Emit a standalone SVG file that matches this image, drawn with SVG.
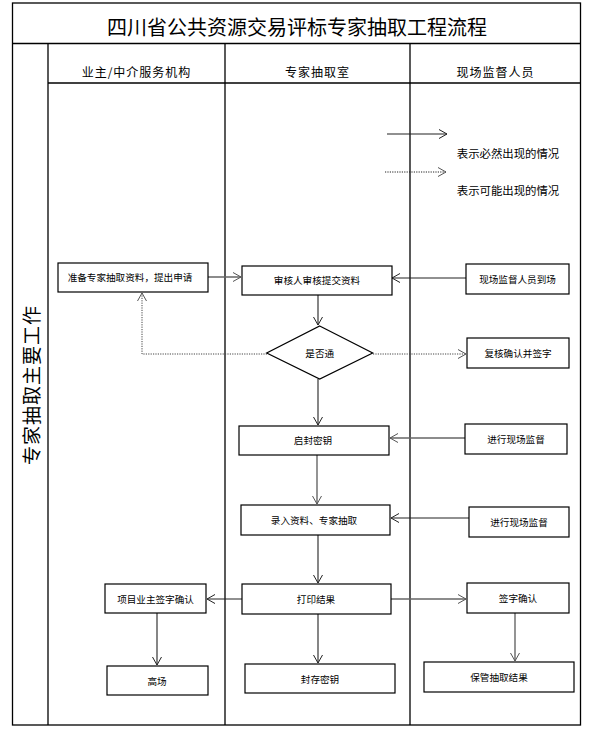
<svg xmlns="http://www.w3.org/2000/svg" width="596" height="730" viewBox="0 0 596 730">
<defs>
<marker id="ah" markerUnits="userSpaceOnUse" markerWidth="12" markerHeight="12" refX="9" refY="5" orient="auto">
<path d="M1,0.5 L9,5 L1,9.5" fill="none" stroke="#222" stroke-width="1"/>
</marker>
<marker id="ahg" markerUnits="userSpaceOnUse" markerWidth="12" markerHeight="12" refX="9" refY="5" orient="auto">
<path d="M1,0.5 L9,5 L1,9.5" fill="none" stroke="#555" stroke-width="1"/>
</marker>
<style>
.t{font-family:"Noto Sans CJK SC","Noto Sans",sans-serif;fill:#000;text-anchor:middle;dominant-baseline:central}
.b{font-size:9.6px}
.h{font-size:12px;letter-spacing:1px}
.box{fill:#fff;stroke:#000;stroke-width:1.2}
.fr{fill:none;stroke:#000;stroke-width:1.3}
.c{fill:none;stroke:#222;stroke-width:1.1;marker-end:url(#ah)}
.cg{fill:none;stroke:#666;stroke-width:1.4;marker-end:url(#ahg)}
.d{fill:none;stroke:#444;stroke-width:1;stroke-dasharray:1.2,1.2;marker-end:url(#ahg)}
</style>
</defs>
<rect width="596" height="730" fill="#fff"/>
<g id="frame">
<rect class="fr" x="12.5" y="3" width="568" height="722"/>
<line class="fr" x1="12.5" y1="43.5" x2="580.5" y2="43.5"/>
<line class="fr" x1="48" y1="43.5" x2="48" y2="725"/>
<line class="fr" x1="225" y1="43.5" x2="225" y2="725"/>
<line class="fr" x1="410" y1="43.5" x2="410" y2="725"/>
<line class="fr" x1="48" y1="83" x2="580.5" y2="83"/>
<text class="t" x="297" y="26" style="font-size:20px">四川省公共资源交易评标专家抽取工程流程</text>
<text class="t h" x="136.5" y="71">业主/中介服务机构</text>
<text class="t h" x="317.5" y="71">专家抽取室</text>
<text class="t h" x="495.5" y="71">现场监督人员</text>
<text class="t" x="30" y="385" style="font-size:19px;letter-spacing:1px" transform="rotate(-90 30 385)">专家抽取主要工作</text>
</g>
<g id="legend">
<line class="c" x1="387" y1="134" x2="447" y2="134"/>
<text class="t" x="508" y="153" style="font-size:11.4px">表示必然出现的情况</text>
<line class="d" x1="385" y1="172" x2="446" y2="172" style="stroke:#222"/>
<text class="t" x="508" y="190" style="font-size:11.4px">表示可能出现的情况</text>
</g>
<g id="connectors">
<line class="cg" x1="208" y1="277" x2="241" y2="277"/>
<line class="c" x1="466" y1="278" x2="392" y2="278"/>
<line class="c" x1="318" y1="295" x2="318" y2="325"/>
<polyline class="d" points="267,354 142,354 142,293"/>
<line class="d" x1="373" y1="354" x2="466" y2="354"/>
<line class="c" x1="318" y1="379" x2="318" y2="425"/>
<line class="cg" x1="465" y1="438" x2="390" y2="438"/>
<line class="cg" x1="317" y1="455" x2="317" y2="504"/>
<line class="c" x1="469" y1="518" x2="391" y2="518"/>
<line class="c" x1="318" y1="535" x2="318" y2="583"/>
<line class="c" x1="242" y1="599" x2="207" y2="599"/>
<line class="cg" x1="391" y1="599" x2="466" y2="599"/>
<line class="c" x1="157" y1="613" x2="157" y2="665"/>
<line class="c" x1="318" y1="614" x2="318" y2="663"/>
<line class="cg" x1="515" y1="613" x2="515" y2="661"/>
</g>
<g id="n1"><rect class="box" x="58" y="263" width="150" height="29"/><text class="t b" x="130" y="277">准备专家抽取资料，提出申请</text></g>
<g id="n2"><rect class="box" x="242" y="266" width="150" height="29"/><text class="t b" x="317" y="280">审核人审核提交资料</text></g>
<g id="n3"><rect class="box" x="466" y="264" width="103" height="30"/><text class="t b" x="517.5" y="279">现场监督人员到场</text></g>
<g id="n4"><polygon points="319.7,326 372.7,353 319.7,379 266.7,353" fill="#fff" stroke="#000" stroke-width="1.2"/><text class="t b" x="319.7" y="353">是否通</text></g>
<g id="n5"><rect class="box" x="467" y="338" width="102" height="30"/><text class="t b" x="518" y="353">复核确认并签字</text></g>
<g id="n6"><rect class="box" x="239" y="426" width="150" height="29"/><text class="t b" x="313" y="440">启封密钥</text></g>
<g id="n7"><rect class="box" x="465" y="424" width="102" height="30"/><text class="t b" x="516" y="439">进行现场监督</text></g>
<g id="n8"><rect class="box" x="241" y="505" width="149" height="30"/><text class="t b" x="314" y="520">录入资料、专家抽取</text></g>
<g id="n9"><rect class="box" x="469" y="507" width="100" height="30"/><text class="t b" x="519" y="522">进行现场监督</text></g>
<g id="n10"><rect class="box" x="105" y="584" width="101" height="29"/><text class="t b" x="155.5" y="599">项目业主签字确认</text></g>
<g id="n11"><rect class="box" x="242" y="584" width="149" height="30"/><text class="t b" x="316" y="599">打印结果</text></g>
<g id="n12"><rect class="box" x="467" y="583" width="102" height="30"/><text class="t b" x="518" y="598">签字确认</text></g>
<g id="n13"><rect class="box" x="107" y="666" width="101" height="29"/><text class="t b" x="157" y="681">高场</text></g>
<g id="n14"><rect class="box" x="245" y="664" width="150" height="29"/><text class="t b" x="320" y="679">封存密钥</text></g>
<g id="n15"><rect class="box" x="424" y="662" width="150" height="30"/><text class="t b" x="499" y="677">保管抽取结果</text></g>
</svg>
